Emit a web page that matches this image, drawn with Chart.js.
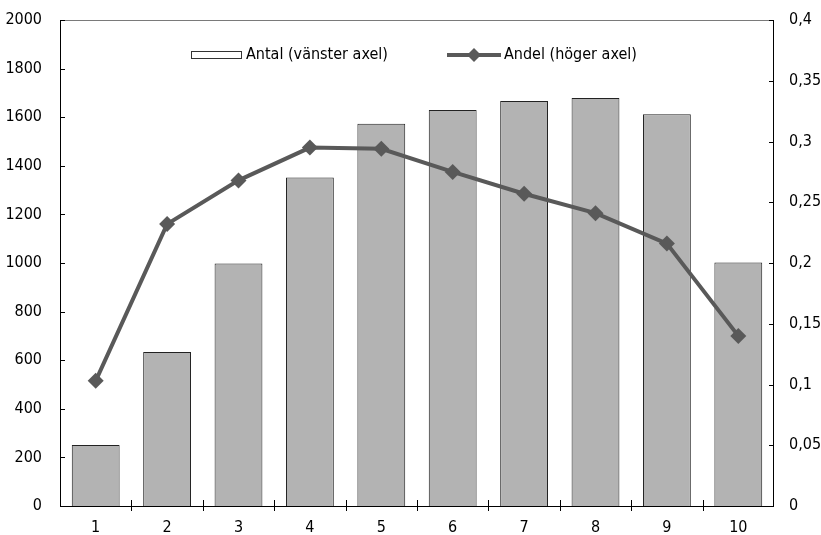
<!DOCTYPE html>
<html>
<head>
<meta charset="utf-8">
<script src="https://cdn.jsdelivr.net/npm/chart.js@4/dist/chart.umd.min.js"></script>
<style>
  html, body { margin: 0; padding: 0; background: #fff; }
  #wrap { width: 821px; height: 535px; position: relative; }
</style>
</head>
<body>
<div id="wrap"><canvas id="chart" width="821" height="535"></canvas></div>
<script>
// --- DATA ---
const categories = ['1', '2', '3', '4', '5', '6', '7', '8', '9', '10'];
const antal = [251, 634, 998, 1352, 1573, 1630, 1667, 1679, 1612, 1002];
const andel = [0.103, 0.232, 0.268, 0.295, 0.294, 0.275, 0.257, 0.241, 0.216, 0.140];
const leftTicks = [0, 200, 400, 600, 800, 1000, 1200, 1400, 1600, 1800, 2000];
const rightTicks = [0, 0.05, 0.1, 0.15, 0.2, 0.25, 0.3, 0.35, 0.4];

const FONT = "'Liberation Sans Narrow', 'DejaVu Sans Condensed', 'Arial Narrow', sans-serif";
const LINE_COLOR = '#595959';

// Ticks drawn inside the plot (y axes) and across the x axis, plus the frame
const frameTicks = {
    id: 'frameTicks',
    afterDraw(chart) {
        const ctx = chart.ctx;
        const a = chart.chartArea;
        const yl = chart.scales.y;
        const yr = chart.scales.y1;
        ctx.save();
        // top border grey
        ctx.strokeStyle = '#7a7a7a';
        ctx.lineWidth = 1;
        ctx.beginPath();
        ctx.moveTo(a.left, Math.round(a.top) + 0.5);
        ctx.lineTo(a.right, Math.round(a.top) + 0.5);
        ctx.stroke();
        ctx.strokeStyle = '#000';
        ctx.beginPath();
        // left, right, bottom axis lines
        ctx.moveTo(a.left + 0.5, a.top);
        ctx.lineTo(a.left + 0.5, a.bottom);
        ctx.moveTo(a.right - 0.5, a.top);
        ctx.lineTo(a.right - 0.5, a.bottom);
        ctx.moveTo(a.left, Math.round(a.bottom) + 0.5);
        ctx.lineTo(a.right, Math.round(a.bottom) + 0.5);
        leftTicks.forEach(v => {
            const y = Math.round(yl.getPixelForValue(v)) + 0.5;
            ctx.moveTo(a.left, y);
            ctx.lineTo(a.left + 5, y);
        });
        rightTicks.forEach(v => {
            const y = Math.round(yr.getPixelForValue(v)) + 0.5;
            ctx.moveTo(a.right - 5, y);
            ctx.lineTo(a.right, y);
        });
        const step = (a.right - a.left) / categories.length;
        for (let i = 1; i < categories.length; i++) {
            const x = Math.round(a.left + i * step) + 0.5;
            ctx.moveTo(x, a.bottom - 6);
            ctx.lineTo(x, a.bottom + 5);
        }
        ctx.stroke();
        ctx.restore();
    }
};

// Legend inside the plot area
const innerLegend = {
    id: 'innerLegend',
    afterDraw(chart) {
        const ctx = chart.ctx;
        const ds = chart.data.datasets;
        const barDs = ds.find(d => d.type === 'bar');
        const lineDs = ds.find(d => d.type === 'line');
        ctx.save();
        ctx.font = '16px ' + FONT;
        ctx.textBaseline = 'middle';
        // bar entry
        ctx.fillStyle = '#fff';
        ctx.fillRect(191, 52, 50, 6);
        ctx.strokeStyle = '#333';
        ctx.lineWidth = 1;
        ctx.strokeRect(191.5, 51.5, 50, 7);
        ctx.fillStyle = '#000';
        ctx.fillText(barDs.label, 246, 55);
        // line entry
        ctx.strokeStyle = LINE_COLOR;
        ctx.lineWidth = 4;
        ctx.beginPath();
        ctx.moveTo(447, 55);
        ctx.lineTo(501, 55);
        ctx.stroke();
        ctx.fillStyle = LINE_COLOR;
        ctx.beginPath();
        ctx.moveTo(474, 48);
        ctx.lineTo(481, 55);
        ctx.lineTo(474, 62);
        ctx.lineTo(467, 55);
        ctx.closePath();
        ctx.fill();
        ctx.fillStyle = '#000';
        ctx.fillText(lineDs.label, 504, 55);
        ctx.restore();
    }
};

// y axes: fixed width, no extra top/bottom padding from labels
const fixY = w => s => { s.width = w; s.paddingTop = 0; s.paddingBottom = 0; };

new Chart(document.getElementById('chart').getContext('2d'), {
    data: {
        labels: categories,
        datasets: [
            {
                type: 'line',
                label: 'Andel (höger axel)',
                data: andel,
                yAxisID: 'y1',
                borderColor: LINE_COLOR,
                backgroundColor: LINE_COLOR,
                borderWidth: 4,
                pointStyle: 'rectRot',
                pointRadius: 8,
                pointBorderWidth: 0,
                tension: 0,
                order: 0
            },
            {
                type: 'bar',
                label: 'Antal (vänster axel)',
                data: antal,
                yAxisID: 'y',
                backgroundColor: '#b3b3b3',
                borderColor: '#222',
                borderWidth: 1,
                categoryPercentage: 1,
                barPercentage: 0.67,
                order: 1
            }
        ]
    },
    options: {
        responsive: false,
        animation: false,
        layout: { padding: { top: 20, left: 0, right: 0, bottom: 0 } },
        plugins: {
            legend: { display: false },
            tooltip: { enabled: false }
        },
        scales: {
            x: {
                offset: true,
                grid: { display: false, drawTicks: false },
                border: { display: false },
                ticks: { color: '#000', font: { family: FONT, size: 16 }, padding: 12, maxRotation: 0 },
                afterFit: s => { s.height = 29; s.paddingLeft = 0; s.paddingRight = 0; }
            },
            y: {
                position: 'left',
                min: 0, max: 2000,
                grid: { display: false, drawTicks: false },
                border: { display: false },
                ticks: {
                    stepSize: 200, color: '#000', font: { family: FONT, size: 16 }, padding: 18,
                    callback: v => String(v)
                },
                afterFit: fixY(60)
            },
            y1: {
                position: 'right',
                min: 0, max: 0.4,
                grid: { display: false, drawTicks: false },
                border: { display: false },
                ticks: {
                    stepSize: 0.05, color: '#000', font: { family: FONT, size: 16 }, padding: 15,
                    callback: v => String(Math.round(v * 100) / 100).replace('.', ',')
                },
                afterFit: fixY(47)
            }
        }
    },
    plugins: [frameTicks, innerLegend]
});
</script>
</body>
</html>
